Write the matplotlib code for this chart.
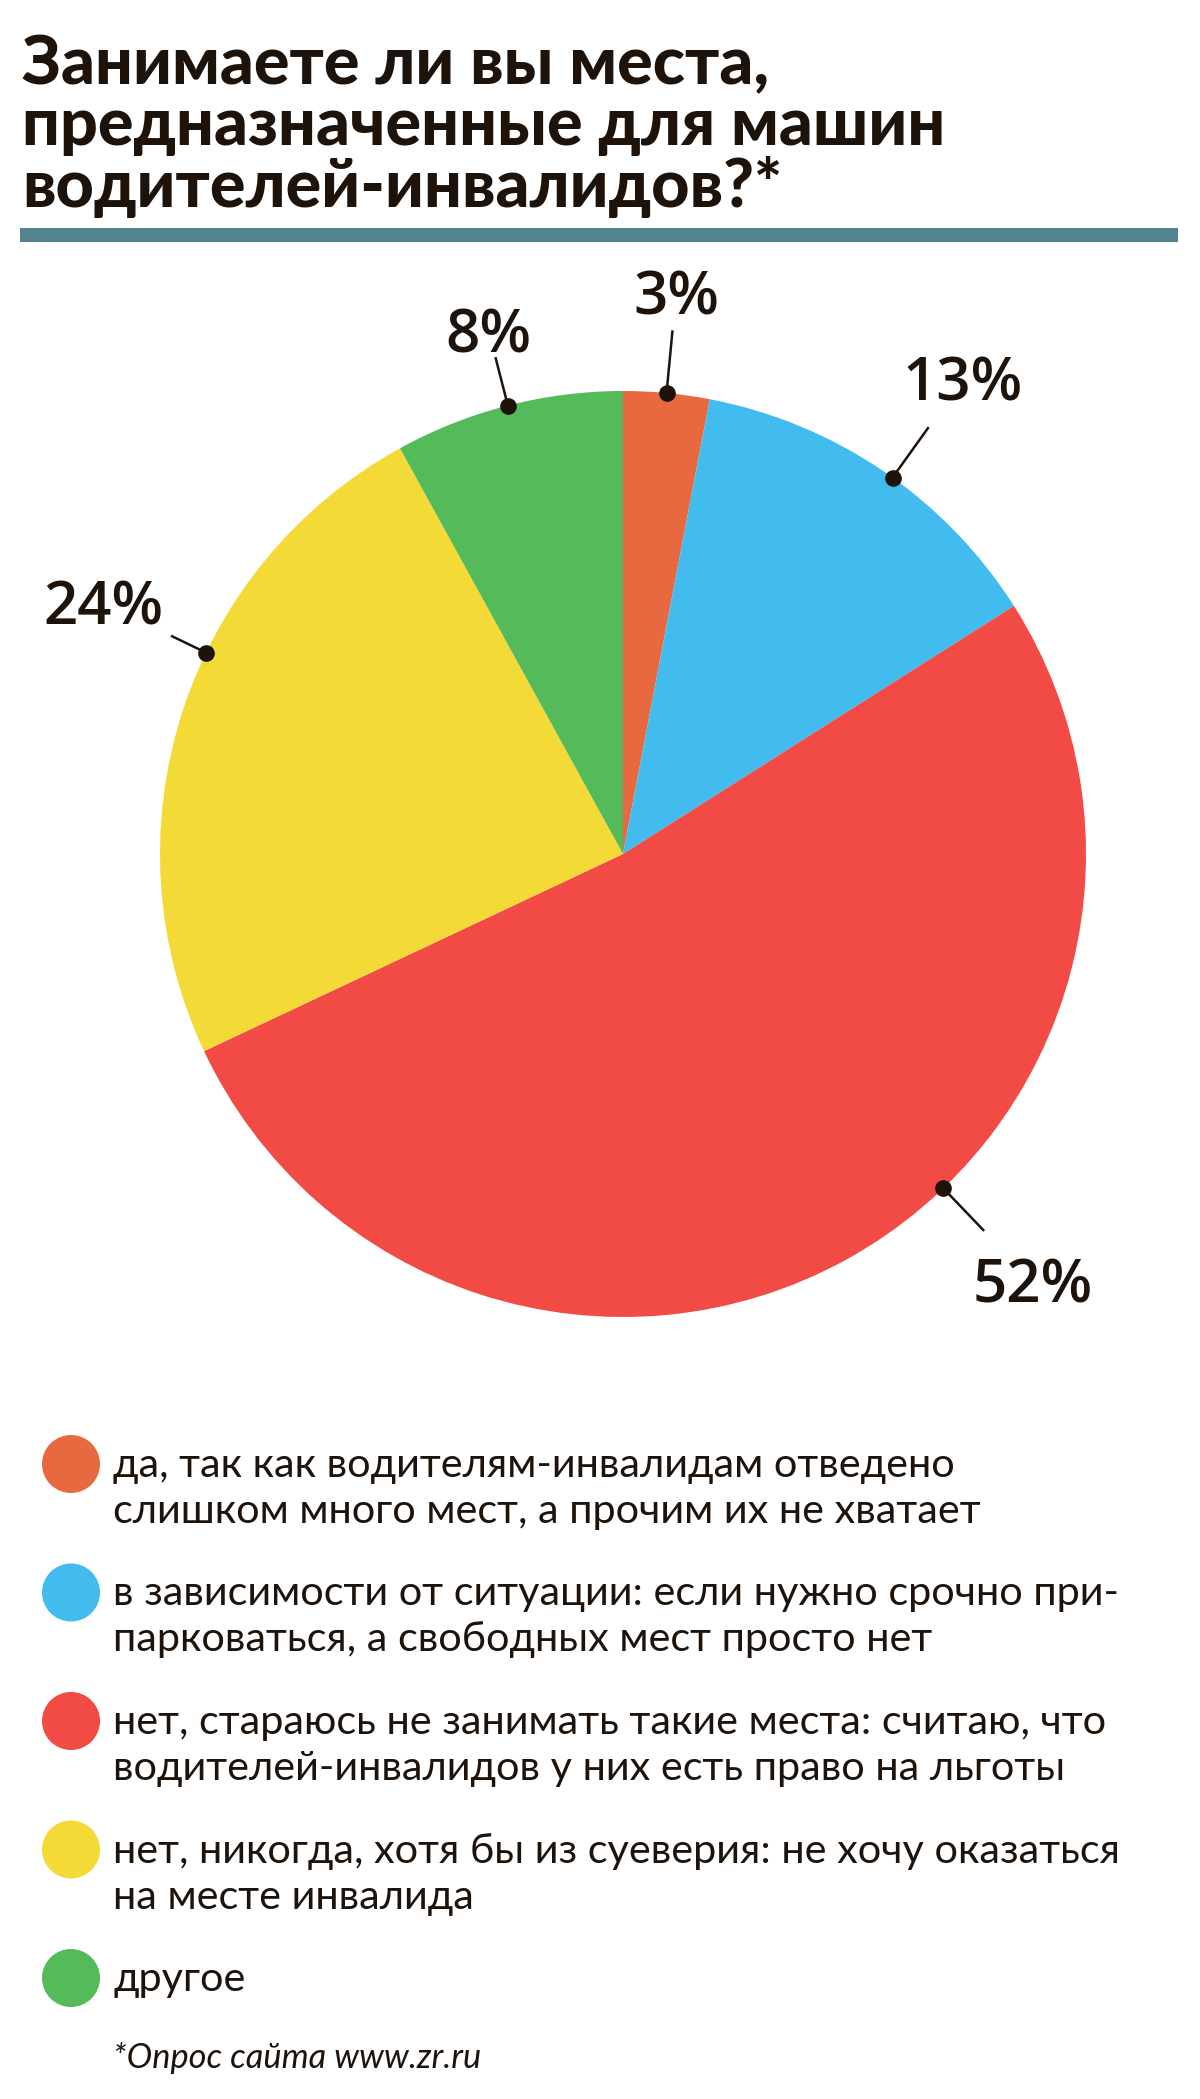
import numpy as np
import matplotlib
matplotlib.use('Agg')
import matplotlib.pyplot as plt
from matplotlib.patches import Circle, Rectangle

# Данные опроса
answers = [
    'да, так как водителям-инвалидам отведено\nслишком много мест, а прочим их не хватает',
    'в зависимости от ситуации: если нужно срочно при-\nпарковаться, а свободных мест просто нет',
    'нет, стараюсь не занимать такие места: считаю, что\nводителей-инвалидов у них есть право на льготы',
    'нет, никогда, хотя бы из суеверия: не хочу оказаться\nна месте инвалида',
    'другое',
]
shares = [3, 13, 52, 24, 8]
share_labels = ['3%', '13%', '52%', '24%', '8%']
colors = ['#E8693F', '#42BCEE', '#F24A45', '#F3DA36', '#55BA5A']

title_lines = ['Занимаете ли вы места,',
               'предназначенные для машин',
               'водителей-инвалидов?*']
note = '*Опрос сайта www.zr.ru'

# Раскладка (в пикселях итоговой картинки)
W, H = 1200, 2099
cx, cy, R = 623, 854, 463
dot_frac = [0.5, 0.53, 0.42, 0.59, 0.5]      # где точка внутри сектора
lead_len = [63, 62, 59, 39, 50]              # длина выноски
text_r = [1.215, 1.26, 1.28, 1.245, 1.165]   # радиус подписи

ink = '#1E130A'
px = 0.72  # пиксели -> пункты при dpi=100

fig = plt.figure(figsize=(W / 100, H / 100), dpi=100)
fig.patch.set_facecolor('white')

# Круговая диаграмма
ax_pie = fig.add_axes([(cx - R) / W, 1 - (cy + R) / H, 2 * R / W, 2 * R / H])
ax_pie.pie(shares, colors=colors, startangle=90, counterclock=False,
           radius=1, wedgeprops=dict(linewidth=0))
ax_pie.set_xlim(-1, 1)
ax_pie.set_ylim(-1, 1)
ax_pie.set_aspect('equal')
ax_pie.axis('off')

# Слой для текста и прочего в пиксельных координатах
ax = fig.add_axes([0, 0, 1, 1])
ax.set_xlim(0, W)
ax.set_ylim(H, 0)
ax.axis('off')
ax.patch.set_alpha(0)


def fit(texts, target):
    # подгоняем кегль, чтобы самая широкая строка была шириной target
    r = fig.canvas.get_renderer()
    wmax = max(t.get_window_extent(r).width for t in texts)
    k = target / wmax
    for t in texts:
        t.set_fontsize(t.get_fontsize() * k)


title_texts = []
for i, line in enumerate(title_lines):
    t = ax.text(22, 84 + i * 61.5, line, fontsize=71 * px, fontweight='black',
                family=['Lato', 'DejaVu Sans'], color=ink,
                ha='left', va='baseline')
    title_texts.append(t)
fit(title_texts, 924)

ax.add_patch(Rectangle((20, 228), 1158, 14, color='#52838F', lw=0))

# Выноски с процентами
cum = np.cumsum([0] + shares[:-1])
total = sum(shares)
for i in range(len(shares)):
    f = (cum[i] + dot_frac[i] * shares[i]) / total
    a = np.deg2rad(90 - 360 * f)
    ux, uy = np.cos(a), -np.sin(a)
    dx, dy = cx + R * ux, cy + R * uy
    ax.plot([dx, dx + lead_len[i] * ux], [dy, dy + lead_len[i] * uy],
            color=ink, lw=1.8, solid_capstyle='butt')
    ax.plot(dx, dy, 'o', color=ink, markersize=11)
    tx, ty = cx + text_r[i] * R * ux, cy + text_r[i] * R * uy
    ax.text(tx, ty + 21, share_labels[i], fontsize=60 * px,
            fontweight='semibold', family='Open Sans', color=ink,
            ha='center', va='baseline')

# Легенда
legend_texts = []
for i, txt in enumerate(answers):
    y0 = 1464 + i * 128.5
    ax.add_patch(Circle((71, y0), 29, color=colors[i], lw=0))
    for j, line in enumerate(txt.split('\n')):
        t = ax.text(113, y0 + 13 + j * 46, line, fontsize=45 * px,
                    family='Lato', color=ink, ha='left', va='baseline')
        legend_texts.append(t)
fit(legend_texts, 1005)

foot = ax.text(113, 2068, note, fontsize=32 * px, family='Lato',
               style='italic', color=ink, ha='left', va='baseline')
fit([foot], 368)

plt.savefig('out.png', dpi=100, facecolor='white')
